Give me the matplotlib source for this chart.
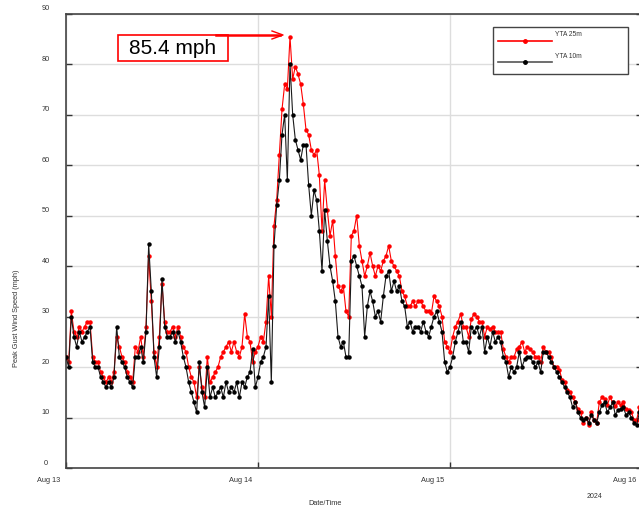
"""
Peak gust wind speed at YTA, 25 m and 10 m sensors, Aug 13-16 2024.
"""

import matplotlib
matplotlib.use("Agg")
import matplotlib.pyplot as plt
import matplotlib.dates as mdates
from matplotlib.patches import Rectangle
from matplotlib.lines import Line2D
import pandas as pd

plt.rcParams.update({
    "font.family": ["Liberation Sans", "DejaVu Sans"],
    "text.color": "#333333",
})

# 20-minute peak gusts (mph), three values per hour, starting Aug 13 00:00
gust_10m = [
    22, 20, 30,   26, 24, 27,   25, 26, 27,   28, 21, 20,
    20, 18, 17,   16, 17, 16,   18, 28, 22,   21, 20, 18,
    17, 16, 22,   22, 24, 21,   27, 44.3, 35, 22, 18, 24,
    37.4, 28, 26, 26, 27, 25,   27, 25, 22,   20, 17, 15,
    13, 11, 21,   15, 12, 20,   14, 16, 14,   15, 16, 14,
    17, 15, 16,   15, 17, 14,   17, 16, 18,   19, 23.5, 16,
    18, 21, 22,   24, 34, 17,   44, 52, 57,   66, 70, 57,
    80, 70, 65,   63, 61, 64,   64, 56, 50,   55, 53, 47,
    39, 51, 45,   40, 37, 33,   26, 24, 25,   22, 22, 41,
    42, 40, 38,   36, 26, 32,   35, 33, 30,   31, 29, 34,
    38, 39, 35,   37, 35, 36,   33, 32, 28,   29, 27, 28,
    28, 27, 29,   27, 26, 28,   30, 31, 29,   27, 21, 19,
    20, 22, 25,   27, 29, 25,   25, 23, 28,   27, 28, 26,
    28, 23, 26,   24, 27, 25,   26, 25, 22,   21, 18, 20,
    19, 20, 23,   20, 21.5, 22, 22, 21, 20,   21, 19, 23,
    23, 22, 21,   20, 19, 18,   17, 16, 15,   14, 12, 13,
    11, 10, 9.5,  10, 9, 10.5,  9.5, 9, 11,   12.5, 13, 11,
    12, 13, 10.5, 11.5, 11.6, 12, 10.5, 11, 10, 9, 8.5, 11,
]

gust_25m = [
    22, 21, 31,   27, 26, 28,   27, 28, 29,   29, 22, 21,
    21, 19, 18,   17, 18, 17,   19, 26, 24,   22, 21, 19,
    18, 17, 24,   23, 26, 22,   28, 42, 33,   23, 20, 26,
    36.5, 29, 27, 27, 28, 26,   28, 26, 24,   23, 20, 18,
    17, 14, 20,   16, 14, 22,   17, 18, 19,   20, 22, 23,
    24, 25, 23,   25, 23, 22,   24, 30.5, 26, 25, 21, 23,
    24, 26, 25,   29, 38, 30,   48, 53, 62,   71, 76, 75,
    85.4, 77, 79.5, 78, 76, 72, 67, 66, 63,   62, 63, 58,
    47, 57, 51,   46, 49, 42,   36, 35, 36,   31, 30, 46,
    47, 50, 44,   41, 38, 40,   42.6, 40, 38, 40, 39, 41,
    42, 44, 41,   40, 39, 38,   35, 34, 32,   32, 33, 32,
    33, 33, 32,   31, 31, 30.6, 34, 33, 32,   30, 25, 24,
    23, 26, 28,   29, 30.5, 28, 28, 26, 29.5, 30.5, 30, 29,
    29, 26, 28,   27.5, 28, 27, 27, 27, 23.5, 22, 21, 22,
    22, 23.5, 24, 25, 23, 24,   23.5, 23, 22, 22, 21, 24,
    23, 23, 22,   20, 20, 19.5, 17.5, 17, 15.5, 15, 14, 13,
    11.6, 11, 9,  10, 8.6, 11,  9.6, 9, 13,   14, 13.6, 12.5,
    14, 13, 12.3, 13, 12.5, 13, 11.6, 11.5, 11, 9.6, 9.5, 12,
]

y_ticks = [0, 10, 20, 30, 40, 50, 60, 70, 80, 90]
day_ticks = ["2024-08-13", "2024-08-14", "2024-08-15", "2024-08-16"]
day_labels = ["Aug 13", "Aug 14", "Aug 15", "Aug 16"]

times = pd.date_range("2024-08-13 00:00", periods=len(gust_10m), freq="20min")
peak = max(gust_25m)

W, H = 639, 510
fig = plt.figure(figsize=(W / 100, H / 100), dpi=100)
ax = fig.add_axes([66 / W, 1 - 469 / H, 576 / W, 454.5 / H])

ax.plot(times, gust_25m, color="#ff0000", lw=0.8, marker="o", ms=2.2,
        mec="#ff0000", mfc="#ff0000", zorder=3)
ax.plot(times, gust_10m, color="#1a1a1a", lw=0.8, marker="o", ms=2.2,
        mec="black", mfc="black", zorder=4)

day_nums = mdates.date2num(pd.to_datetime(day_ticks))
ax.set_xlim(day_nums[0], day_nums[-1])
ax.set_ylim(0, 90)
ax.set_xticks(day_nums)
ax.set_yticks(y_ticks)
ax.set_xticklabels([])
ax.set_yticklabels([])
ax.grid(True, color="#dddddd", lw=1)
ax.set_axisbelow(True)
ax.tick_params(direction="in", length=4, width=1, color="#333333",
               right=True, top=False)
for side in ["left", "bottom", "top", "right"]:
    ax.spines[side].set_color("#444444")
    ax.spines[side].set_linewidth(1.2)

# tick labels sit offset from their ticks, as in the original export
px = 0.72
for v in y_ticks:
    ax.annotate(str(v), xy=(0, v), xycoords=("axes fraction", "data"),
                xytext=(-20 * px, 5.5 * px), textcoords="offset points",
                ha="center", va="center", fontsize=5.3, color="#333333")
for d, lab in zip(day_nums, day_labels):
    ax.annotate(lab, xy=(d, 0), xycoords=("data", "axes fraction"),
                xytext=(-17 * px, -12 * px), textcoords="offset points",
                ha="center", va="center", fontsize=5.3, color="#333333")

fig.text(17 / W, 1 - 318 / H, "Peak Gust Wind Speed (mph)", rotation=90,
         ha="center", va="center", fontsize=5.3, color="#333333")
fig.text(325 / W, 1 - 504 / H, "Date/Time", ha="center", va="center",
         fontsize=5.3, color="#333333")
fig.text(594 / W, 1 - 497 / H, "2024", ha="center", va="center",
         fontsize=5, color="#333333")

# legend drawn by hand: labels sit above their line samples
fig.add_artist(Rectangle((493 / W, 1 - 75 / H), 135 / W, 47 / H,
                         transform=fig.transFigure, fill=True, fc="white",
                         ec="#444444", lw=1, zorder=5))
for yl, yt, col, lc, name in [(42, 35, "#ff0000", "#ff0000", "YTA 25m"),
                              (63, 56, "black", "#555555", "YTA 10m")]:
    fig.add_artist(Line2D([498 / W, 552 / W], [1 - yl / H, 1 - yl / H],
                          transform=fig.transFigure, color=lc, lw=1.2, zorder=6))
    fig.add_artist(Line2D([525 / W], [1 - yl / H], transform=fig.transFigure,
                          marker="o", ms=2.5, color=col, zorder=7))
    fig.text(555 / W, 1 - yt / H, name, ha="left", va="center",
             fontsize=4.8, color="#333333", zorder=7)

# peak annotation
fig.add_artist(Rectangle((118 / W, 1 - 62 / H), 110 / W, 26 / H,
                         transform=fig.transFigure, fill=True, fc="white",
                         ec="#ff0000", lw=1.2, zorder=5))
fig.text(173 / W, 1 - 49 / H, f"{peak:.1f} mph", ha="center", va="center",
         fontsize=15, color="black", zorder=6)
fig.add_artist(plt.Line2D([216 / W, 280 / W], [1 - 36 / H, 1 - 36 / H],
                          transform=fig.transFigure, color="#ff0000", lw=1.8,
                          zorder=6))
fig.add_artist(Line2D([272 / W, 283 / W, 272 / W],
                      [1 - 32 / H, 1 - 36 / H, 1 - 40 / H],
                      transform=fig.transFigure, color="#ff0000", lw=1.0,
                      zorder=6))

fig.savefig("out.png", dpi=100)
